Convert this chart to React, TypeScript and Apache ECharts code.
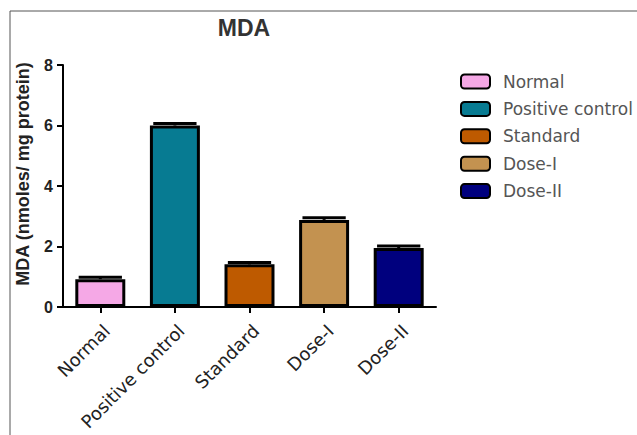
import React, { useEffect, useRef } from "react";
import * as echarts from "echarts";

const categories = ["Normal", "Positive control", "Standard", "Dose-I", "Dose-II"];
const meanValues = [0.92, 6.0, 1.41, 2.88, 1.95];
const errValues = [0.06, 0.07, 0.06, 0.07, 0.07];
const barColors = ["#F5A8E6", "#077B92", "#BE5A00", "#C39250", "#00007E"];
const yTicks = [0, 2, 4, 6, 8];

export default function App() {
  const ref = useRef<HTMLDivElement>(null);
  useEffect(() => {
    if (!ref.current) return;
    const chart = echarts.init(ref.current, null, { renderer: "svg" });
    const barSeries = categories.map((name, i) => ({
      name,
      type: "bar",
      stack: "all",
      barWidth: "67%",
      data: categories.map((_, j) => (j === i ? meanValues[i] : "-")),
      itemStyle: { color: barColors[i], borderColor: "#000", borderWidth: 3 },
      z: 2,
    }));
    const errSeries = {
      type: "custom",
      name: "err",
      z: 3,
      data: categories.map((_, i) => [i, meanValues[i], errValues[i]]),
      encode: { x: 0, y: 1 },
      renderItem: (params: any, api: any) => {
        const i = api.value(0);
        const v = api.value(1);
        const e = api.value(2);
        const p0 = api.coord([i, v]);
        const p1 = api.coord([i, v + e]);
        const band = api.size([1, 0])[0];
        const half = band * 0.29;
        return {
          type: "group",
          children: [
            { type: "line", shape: { x1: p0[0], y1: p0[1], x2: p1[0], y2: p1[1] }, style: { stroke: "#000", lineWidth: 3 } },
            { type: "line", shape: { x1: p1[0] - half, y1: p1[1], x2: p1[0] + half, y2: p1[1] }, style: { stroke: "#000", lineWidth: 3 } },
          ],
        };
      },
    };
    chart.setOption({
      animation: false,
      backgroundColor: "#fff",
      title: {
        text: "MDA",
        left: 239,
        top: 11,
        textAlign: "center",
        textStyle: { fontFamily: "Liberation Sans, Arial", fontWeight: "bold", fontSize: 23, color: "#333" },
      },
      legend: {
        orient: "vertical",
        left: 455,
        top: 68,
        itemWidth: 29,
        itemHeight: 14,
        itemGap: 10.4,
        icon: "roundRect",
        data: categories,
        textStyle: { fontFamily: "DejaVu Sans", fontSize: 17, color: "#555", padding: [0, 0, 0, 8] },
      },
      graphic: [
        { type: "line", shape: { x1: 10, y1: 11, x2: 637, y2: 11 }, style: { stroke: "#555", lineWidth: 1 } },
        { type: "line", shape: { x1: 10, y1: 11, x2: 10, y2: 435 }, style: { stroke: "#555", lineWidth: 1 } },
      ],
      grid: { left: 63, top: 65, right: 201, bottom: 128, containLabel: false },
      xAxis: {
        type: "category",
        data: categories,
        axisLine: { lineStyle: { color: "#000", width: 2 } },
        axisTick: { show: true, alignWithLabel: true, length: 6, lineStyle: { color: "#000", width: 2 } },
        axisLabel: {
          rotate: 45,
          margin: 27,
          padding: [0, -9, 0, 0],
          fontFamily: "DejaVu Sans",
          fontSize: 18,
          color: "#222",
          interval: 0,
        },
      },
      yAxis: {
        type: "value",
        min: yTicks[0],
        max: yTicks[yTicks.length - 1],
        interval: 2,
        name: "MDA (nmoles/ mg protein)",
        nameLocation: "middle",
        nameGap: 31,
        nameTextStyle: {
          fontFamily: "Liberation Sans, Arial",
          fontWeight: "bold",
          fontSize: 18,
          color: "#222",
          padding: [0, 0, 0, 24],
        },
        splitLine: { show: false },
        axisLine: { show: true, lineStyle: { color: "#000", width: 2 } },
        axisTick: { show: true, length: 6, lineStyle: { color: "#000", width: 2 } },
        axisLabel: { margin: 10, fontFamily: "Liberation Sans, Arial", fontWeight: "bold", fontSize: 16, color: "#222" },
      },
      series: [...barSeries, errSeries],
    });
    return () => chart.dispose();
  }, []);
  return (
    <div
      ref={ref}
      style={{ position: "fixed", left: 0, top: 0, width: 637, height: 435 }}
    />
  );
}
